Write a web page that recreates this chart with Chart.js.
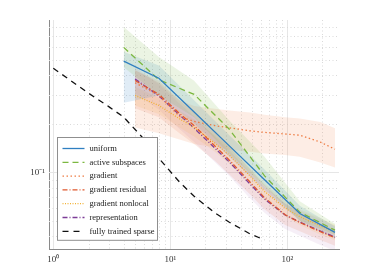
<!DOCTYPE html>
<html>
<head>
<meta charset="utf-8">
<script src="https://cdn.jsdelivr.net/npm/chart.js@4.4.0/dist/chart.umd.min.js"></script>
<style>
  html, body { margin: 0; padding: 0; background: #fff; }
</style>
</head>
<body>
<canvas id="chart" width="374" height="280"></canvas>
<script>
// budgets (x) for uniform / active subspaces
const stepsA = [4, 8, 16, 32, 64, 128, 256];
const uniform = [0.49, 0.384, 0.237, 0.146, 0.090, 0.0555, 0.0424];
const uniformLo = [0.27, 0.30, 0.20, 0.125, 0.078, 0.050, 0.039];
const uniformHi = [0.56, 0.46, 0.28, 0.17, 0.104, 0.062, 0.046];
const active = [0.597, 0.375, 0.305, 0.185, 0.095, 0.0565, 0.0437];
const activeLo = [0.45, 0.30, 0.22, 0.13, 0.082, 0.050, 0.041];
const activeHi = [0.80, 0.52, 0.37, 0.21, 0.125, 0.066, 0.048];

// budgets for the gradient based methods
const stepsB = [5, 8, 12, 16, 24, 32, 48, 64, 96, 128, 192, 256];
const gradient = [0.36, 0.30, 0.222, 0.207, 0.195, 0.189, 0.181, 0.177, 0.173, 0.170, 0.154, 0.139];
const gradientLo = [0.19, 0.175, 0.16, 0.15, 0.143, 0.138, 0.134, 0.131, 0.128, 0.125, 0.115, 0.107];
const gradientHi = [0.43, 0.37, 0.28, 0.258, 0.248, 0.242, 0.235, 0.228, 0.22, 0.216, 0.205, 0.188];
const residual = [0.372, 0.305, 0.232, 0.195, 0.146, 0.119, 0.087, 0.0695, 0.0545, 0.0488, 0.0428, 0.0392];
const residualLo = [0.25, 0.22, 0.175, 0.15, 0.118, 0.097, 0.073, 0.059, 0.047, 0.043, 0.038, 0.035];
const residualHi = [0.43, 0.36, 0.28, 0.235, 0.18, 0.145, 0.105, 0.083, 0.064, 0.056, 0.048, 0.044];
const nonlocal = [0.30, 0.26, 0.215, 0.19, 0.152, 0.128, 0.095, 0.076, 0.060, 0.053, 0.0465, 0.0425];
const nonlocalLo = [0.26, 0.23, 0.19, 0.167, 0.134, 0.113, 0.084, 0.067, 0.053, 0.047, 0.041, 0.0378];
const nonlocalHi = [0.34, 0.29, 0.24, 0.213, 0.17, 0.143, 0.106, 0.085, 0.067, 0.059, 0.052, 0.0472];
const representation = [0.380, 0.298, 0.227, 0.188, 0.1415, 0.1159, 0.0846, 0.0683, 0.0543, 0.0491, 0.0432, 0.0396];
const representationLo = [0.31, 0.245, 0.186, 0.154, 0.116, 0.095, 0.069, 0.056, 0.0445, 0.0403, 0.0354, 0.0325];
const representationHi = [0.45, 0.352, 0.268, 0.222, 0.167, 0.137, 0.10, 0.081, 0.064, 0.058, 0.051, 0.0467];

// fully trained sparse reference
const stepsS = [1, 2, 3, 4, 6, 8, 12, 16, 24, 32, 48, 64];
const sparse = [0.443, 0.31, 0.255, 0.22, 0.16, 0.122, 0.087, 0.071, 0.056, 0.049, 0.0415, 0.038];

// axis ticks
const xTickValues = [1, 2, 3, 4, 5, 6, 7, 8, 9, 10, 20, 30, 40, 50, 60, 70, 80, 90, 100, 200];
const xMajor = [1, 10, 100];
const xLabels = ['10\u2070', '10\u00b9', '10\u00b2'];
const yTickValues = [0.04, 0.05, 0.06, 0.07, 0.08, 0.09, 0.1, 0.2, 0.3, 0.4, 0.5, 0.6, 0.7, 0.8];
const yMajor = [0.1];
const yLabels = ['10\u207b\u00b9'];

function pts(xs, ys) {
  return xs.map((x, i) => ({x: x, y: ys[i]}));
}

function band(xs, hi, lo, color) {
  return [
    {data: pts(xs, hi), borderWidth: 0, pointRadius: 0, fill: '+1', backgroundColor: color, order: 10},
    {data: pts(xs, lo), borderWidth: 0, pointRadius: 0, fill: false, order: 10}
  ];
}

function line(label, xs, ys, color, dash) {
  return {label: label, data: pts(xs, ys), borderColor: color, borderWidth: 1.3,
    borderDash: dash, pointRadius: 0, fill: false, tension: 0, order: 1};
}

const datasets = [
  line('uniform', stepsA, uniform, '#2f7fc1', []),
  line('active subspaces', stepsA, active, '#7cb840', [6, 4]),
  line('gradient', stepsB, gradient, '#ee7d45', [1.5, 2.5]),
  line('gradient residual', stepsB, residual, '#e0582e', [5, 2, 1, 2]),
  line('gradient nonlocal', stepsB, nonlocal, '#f2b134', [1, 1.5]),
  line('representation', stepsB, representation, '#7d3c98', [5, 2, 1, 2]),
  line('fully trained sparse', stepsS, sparse, '#111111', [6, 5]),
  ...band(stepsA, activeHi, activeLo, 'rgba(124,184,64,0.15)'),
  ...band(stepsA, uniformHi, uniformLo, 'rgba(47,127,193,0.15)'),
  ...band(stepsB, gradientHi, gradientLo, 'rgba(238,125,69,0.14)'),
  ...band(stepsB, residualHi, residualLo, 'rgba(224,88,46,0.12)'),
  ...band(stepsB, nonlocalHi, nonlocalLo, 'rgba(242,177,52,0.12)'),
  ...band(stepsB, representationHi, representationLo, 'rgba(160,80,170,0.09)')
];

// dotted minor / solid major grid lines
const gridLines = {
  id: 'gridLines',
  beforeDatasetsDraw(chart) {
    const {ctx, chartArea: a, scales: {x, y}} = chart;
    ctx.save();
    ctx.lineWidth = 1;
    x.ticks.forEach(t => {
      const px = Math.round(x.getPixelForValue(t.value)) + 0.5;
      const major = xMajor.includes(t.value);
      ctx.strokeStyle = major ? '#e6e6e6' : '#dadada';
      ctx.setLineDash(major ? [] : [1, 2.5]);
      ctx.beginPath(); ctx.moveTo(px, a.top); ctx.lineTo(px, a.bottom); ctx.stroke();
    });
    y.ticks.forEach(t => {
      const py = Math.round(y.getPixelForValue(t.value)) + 0.5;
      const major = yMajor.includes(t.value);
      ctx.strokeStyle = major ? '#e6e6e6' : '#dadada';
      ctx.setLineDash(major ? [] : [1, 2.5]);
      ctx.beginPath(); ctx.moveTo(a.left, py); ctx.lineTo(a.right, py); ctx.stroke();
    });
    ctx.restore();
  }
};

// legend box inside the plot, lower left
const boxLegend = {
  id: 'boxLegend',
  afterDatasetsDraw(chart) {
    const {ctx, chartArea: a} = chart;
    const items = chart.data.datasets.filter(d => d.label);
    const rowH = 13.8;
    const w = 100, h = 11 + (items.length - 1) * rowH + 9;
    const left = a.left + 8.5, top = Math.round(a.bottom - 9 - h) + 0.5;
    ctx.save();
    ctx.fillStyle = '#fff';
    ctx.fillRect(left, top, w, h);
    ctx.strokeStyle = '#8f8f8f';
    ctx.lineWidth = 1;
    ctx.strokeRect(left, top, w, h);
    ctx.font = '8.5px "Liberation Serif", serif';
    ctx.textBaseline = 'middle';
    items.forEach((d, i) => {
      const cy = top + 11 + i * rowH;
      ctx.strokeStyle = d.borderColor;
      ctx.lineWidth = 1.3;
      ctx.setLineDash(d.borderDash);
      ctx.beginPath(); ctx.moveTo(left + 5, cy); ctx.lineTo(left + 27, cy); ctx.stroke();
      ctx.fillStyle = '#222';
      ctx.fillText(d.label, left + 32, cy);
    });
    ctx.restore();
  }
};

new Chart(document.getElementById('chart'), {
  type: 'line',
  data: {datasets: datasets},
  plugins: [gridLines, boxLegend],
  options: {
    responsive: false,
    animation: false,
    events: [],
    layout: {padding: {top: 20, right: 35, left: 0, bottom: 0}},
    plugins: {legend: {display: false}, tooltip: {enabled: false}},
    scales: {
      x: {
        type: 'logarithmic',
        min: 0.919,
        max: 277,
        afterBuildTicks: s => { s.ticks = xTickValues.map(v => ({value: v})); },
        afterFit: s => { s.height = 31; },
        grid: {display: false, drawTicks: false},
        border: {display: true, color: '#8a8a8a', width: 1},
        ticks: {
          autoSkip: false, maxRotation: 0, padding: 5, color: '#333',
          font: {family: '"Liberation Serif", serif', size: 9},
          callback: v => { const i = xMajor.indexOf(v); return i >= 0 ? xLabels[i] : ''; }
        }
      },
      y: {
        type: 'logarithmic',
        min: 0.0334,
        max: 0.883,
        afterBuildTicks: s => { s.ticks = yTickValues.map(v => ({value: v})); },
        afterFit: s => { s.width = 49; },
        grid: {display: false, drawTicks: false},
        border: {display: true, color: '#8a8a8a', width: 1},
        ticks: {
          autoSkip: false, padding: 4, color: '#333',
          font: {family: '"Liberation Serif", serif', size: 9},
          callback: v => { const i = yMajor.indexOf(v); return i >= 0 ? yLabels[i] : ''; }
        }
      }
    }
  }
});
</script>
</body>
</html>
